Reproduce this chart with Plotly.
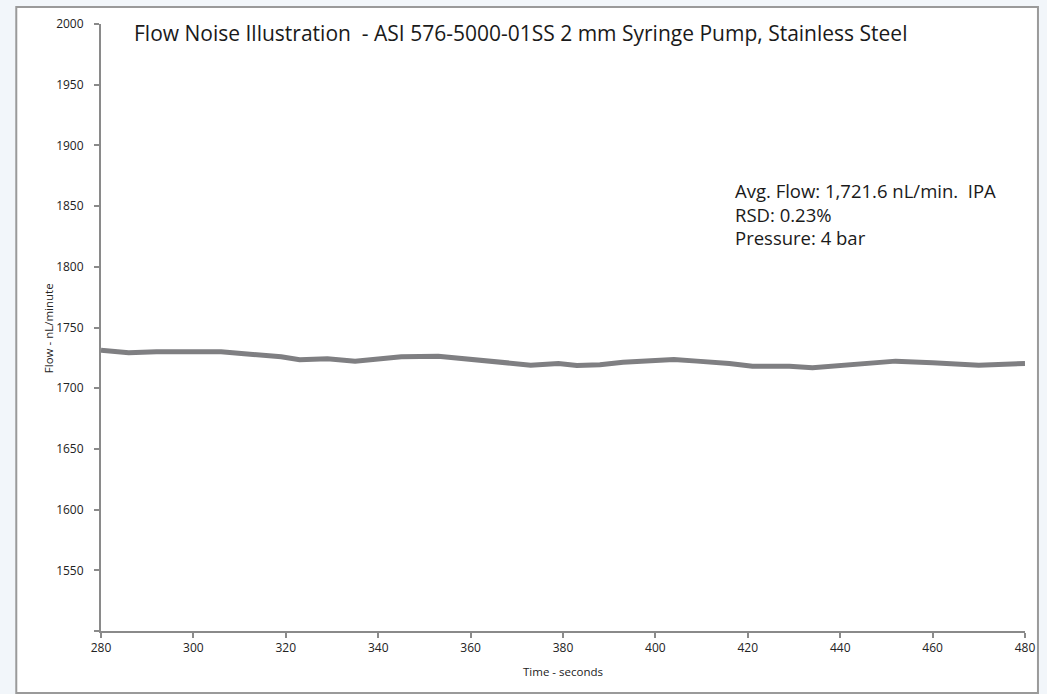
import plotly.graph_objects as go

# Data
time_s = [280, 286, 292, 300, 306, 311, 319, 323, 329, 335, 340, 345, 353, 358,
          364, 369, 373, 379, 383, 388, 393, 400, 404, 409, 416, 421, 429, 434,
          442, 452, 460, 470, 480]
flow_nl_min = [1731.3, 1729.2, 1730.0, 1730.5, 1730.0, 1728.3, 1725.9, 1723.5,
               1724.2, 1722.3, 1723.7, 1725.9, 1726.4, 1724.4, 1723.0, 1720.4,
               1719.0, 1720.4, 1718.7, 1719.3, 1721.4, 1722.8, 1723.7, 1722.3,
               1720.4, 1718.0, 1718.1, 1716.9, 1719.3, 1722.3, 1721.0, 1719.0,
               1720.4]
y_ticks = [1500, 1550, 1600, 1650, 1700, 1750, 1800, 1850, 1900, 1950, 2000]
y_tick_text = [""] + [str(v) for v in y_ticks[1:]]
x_ticks = [280, 300, 320, 340, 360, 380, 400, 420, 440, 460, 480]

title_text = "Flow Noise Illustration  - ASI 576-5000-01SS 2 mm Syringe Pump, Stainless Steel"
info_lines = ["Avg. Flow: 1,721.6 nL/min.  IPA", "RSD: 0.23%", "Pressure: 4 bar"]

W, H = 1047, 694
L, T = 101, 24
R = W - 1028
B = H - 631
pw, ph = W - L - R, H - T - B

def px_x(x):
    return (x - L) / pw

def px_y(y):
    return (H - B - y) / ph

fig = go.Figure()
fig.add_trace(go.Scatter(x=time_s, y=flow_nl_min, mode="lines",
                         line=dict(color="#7f7f82", width=5), hoverinfo="skip",
                         showlegend=False))

axis_col = "#8a8a8a"
fig.update_xaxes(range=[280, 480], tickvals=x_ticks, ticks="outside", ticklen=5,
                 tickcolor=axis_col, tickwidth=2, showline=True, linecolor=axis_col,
                 linewidth=2, showgrid=False, zeroline=False,
                 tickfont=dict(family="Open Sans", size=12, color="#222"),
                 title=dict(text="Time - seconds", standoff=13,
                            font=dict(family="Open Sans", size=11.5, color="#222")))
fig.update_yaxes(range=[1500, 2000], tickvals=y_ticks, ticktext=y_tick_text,
                 ticks="outside", ticklen=5, tickcolor=axis_col, tickwidth=2,
                 showline=True, linecolor=axis_col, linewidth=2, showgrid=False,
                 zeroline=False, ticklabelstandoff=8,
                 tickfont=dict(family="Open Sans", size=12, color="#222"))

annotations = [
    dict(text=title_text, xref="paper", yref="paper", x=px_x(522), y=px_y(33),
         xanchor="center", yanchor="middle", showarrow=False,
         font=dict(family="Open Sans", size=21, color="#1a1a1a")),
    dict(text="Flow - nL/minute", xref="paper", yref="paper", x=px_x(48), y=px_y(328),
         xanchor="center", yanchor="middle", textangle=-90, showarrow=False,
         font=dict(family="Open Sans", size=11.5, color="#222")),
]
for i, line in enumerate(info_lines):
    annotations.append(dict(text=line, xref="paper", yref="paper", x=px_x(735),
                            y=px_y(190 + 24 * i), xanchor="left", yanchor="middle",
                            showarrow=False,
                            font=dict(family="Open Sans", size=18.5, color="#1a1a1a")))

shapes = [dict(type="rect", xref="paper", yref="paper", x0=px_x(16), x1=px_x(1041),
               y0=px_y(693), y1=px_y(7), line=dict(color="#9a9a9a", width=2),
               fillcolor="white", layer="below")]

fig.update_layout(width=W, height=H, margin=dict(l=L, r=R, t=T, b=B),
                  paper_bgcolor="#f2f6fa", plot_bgcolor="rgba(0,0,0,0)",
                  annotations=annotations, shapes=shapes, showlegend=False)

fig.write_html("out.html", config={"displayModeBar": False},
               post_script="document.body.style.margin='0';"
                           "document.body.style.overflow='hidden';")
